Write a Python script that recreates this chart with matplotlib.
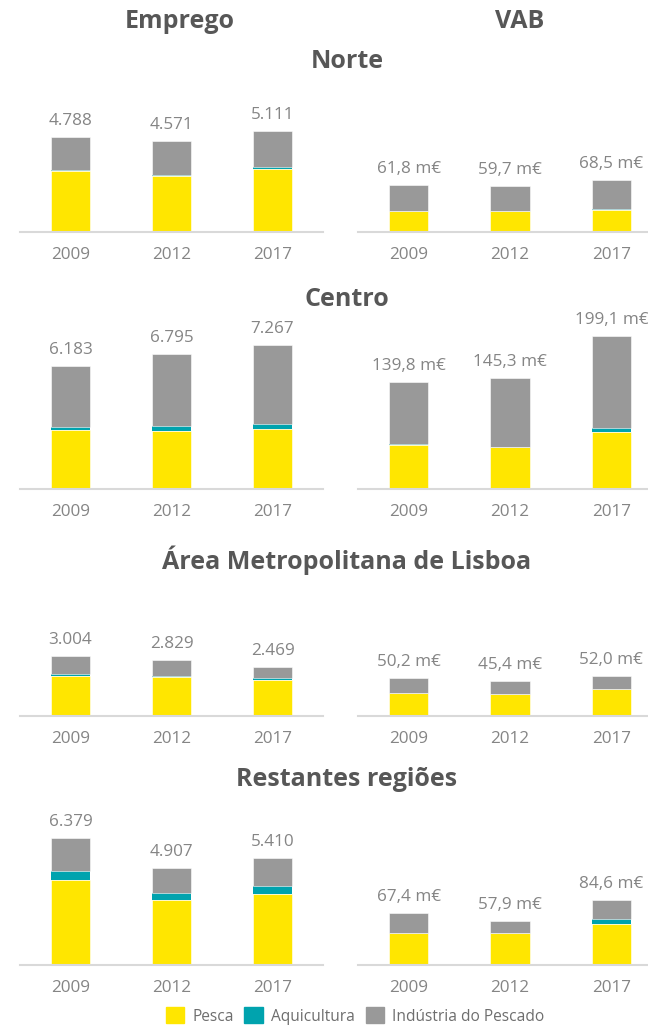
import numpy as np
import matplotlib
matplotlib.use('Agg')
import matplotlib.pyplot as plt
from matplotlib.patches import Patch

plt.rcParams['font.family'] = ['Open Sans', 'DejaVu Sans']

# data
years = ['2009', '2012', '2017']
regions = ['Norte', 'Centro', 'Área Metropolitana de Lisboa', 'Restantes regiões']

# Emprego (pessoas): Pesca, Aquicultura, Industria do Pescado
emp_pesca = [[3060, 2830, 3180], [2955, 2905, 3040], [2030, 1965, 1830], [4290, 3295, 3565]]
emp_aqui = [[60, 60, 80], [150, 285, 250], [80, 70, 100], [470, 350, 435]]
emp_ind = [[1668, 1681, 1851], [3078, 3605, 3977], [894, 794, 539], [1619, 1262, 1410]]
emp_total = [['4.788', '4.571', '5.111'], ['6.183', '6.795', '7.267'],
             ['3.004', '2.829', '2.469'], ['6.379', '4.907', '5.410']]

# VAB (milhoes de euros)
vab_pesca = [[27.3, 27.8, 28.6], [57.0, 54.3, 74.3], [30.4, 29.1, 35.6], [42.4, 41.6, 54.1]]
vab_aqui = [[0.0, 0.0, 1.0], [2.0, 0.3, 5.6], [0.0, 0.0, 0.0], [0.0, 0.5, 5.7]]
vab_ind = [[34.5, 31.9, 38.9], [80.8, 90.7, 119.2], [19.8, 16.3, 16.4], [25.0, 15.8, 24.8]]
vab_total = [['61,8 m€', '59,7 m€', '68,5 m€'], ['139,8 m€', '145,3 m€', '199,1 m€'],
             ['50,2 m€', '45,4 m€', '52,0 m€'], ['67,4 m€', '57,9 m€', '84,6 m€']]

c_pesca = '#FFE600'
c_aqui = '#00A3AE'
c_ind = '#999999'
c_text = '#858585'
c_title = '#575757'

W, H = 648, 1025
fig = plt.figure(figsize=(W / 100, H / 100), dpi=100)

bases = [232, 489, 716, 965]
tops = [110, 320, 620, 800]
title_y = [62, 300, 560, 779]


def draw(ax, p, a, i, labels, per_px, hp):
    x = np.arange(len(years))
    p, a, i = np.array(p), np.array(a), np.array(i)
    ax.bar(x, p, 0.39, color=c_pesca, edgecolor='white', linewidth=0.4)
    ax.bar(x, a, 0.39, bottom=p, color=c_aqui, linewidth=0)
    ax.bar(x, i, 0.39, bottom=p + a, color=c_ind, edgecolor='white', linewidth=0.4)
    tot = p + a + i
    for xi, t, lab in zip(x, tot, labels):
        ax.annotate(lab, (xi, t), xytext=(0, 8), textcoords='offset pixels',
                    ha='center', va='bottom', fontsize=12.3, color=c_text)
    ax.set_xlim(-0.5, 2.5)
    ax.set_ylim(0, hp * per_px)
    ax.set_xticks(x)
    ax.set_xticklabels(years)
    ax.tick_params(axis='x', length=0, pad=11, labelsize=12.3, labelcolor=c_text)
    ax.set_yticks([])
    for s in ['top', 'right', 'left']:
        ax.spines[s].set_visible(False)
    ax.spines['bottom'].set_color('#d9d9d9')
    ax.spines['bottom'].set_linewidth(1.5)
    ax.patch.set_alpha(0)


for r in range(4):
    hp = bases[r] - tops[r]
    axl = fig.add_axes([20 / W, 1 - bases[r] / H, 303 / W, hp / H])
    draw(axl, emp_pesca[r], emp_aqui[r], emp_ind[r], emp_total[r], 50.4, hp)
    axr = fig.add_axes([358 / W, 1 - bases[r] / H, 304 / W, hp / H])
    draw(axr, vab_pesca[r], vab_aqui[r], vab_ind[r], vab_total[r], 1.305, hp)
    fig.text(347 / W, 1 - title_y[r] / H, regions[r], ha='center', va='center',
             fontsize=18, fontweight='bold', color=c_title)

fig.text(180 / W, 1 - 22 / H, 'Emprego', ha='center', va='center',
         fontsize=18, fontweight='bold', color=c_title)
fig.text(520 / W, 1 - 22 / H, 'VAB', ha='center', va='center',
         fontsize=18, fontweight='bold', color=c_title)

handles = [Patch(color=c_pesca, label='Pesca'),
           Patch(color=c_aqui, label='Aquicultura'),
           Patch(color=c_ind, label='Indústria do Pescado')]
fig.legend(handles=handles, loc='center', bbox_to_anchor=(355 / W, 1 - 1016 / H),
           ncol=3, frameon=False, fontsize=11.2, labelcolor='#6e6e6e',
           handlelength=1.2, handleheight=1.2, handletextpad=0.5, columnspacing=0.7)

fig.savefig('out.png', dpi=100)
